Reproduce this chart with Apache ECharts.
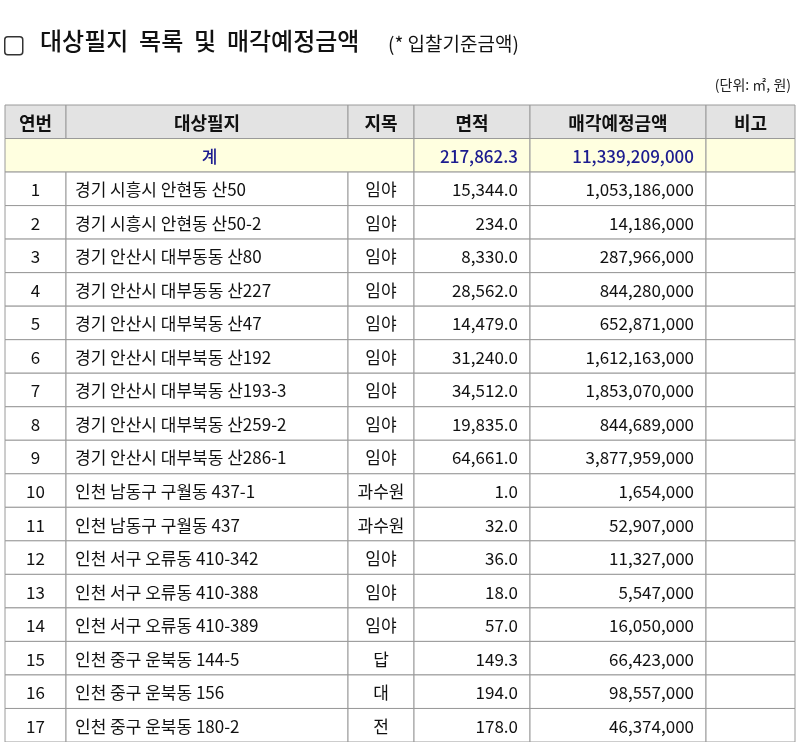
<!DOCTYPE html>
<html><head><meta charset="utf-8">
<script src="https://cdn.jsdelivr.net/npm/echarts@6/dist/echarts.min.js"></script>
<style>html,body{margin:0;padding:0;background:#fff}#c{width:800px;height:742px}</style>
</head><body><div id="c"></div>
<script>
const headers = ['연번','대상필지','지목','면적','매각예정금액','비고'];
const totalArea = '217,862.3';
const totalPrice = '11,339,209,000';
const nums = ['1','2','3','4','5','6','7','8','9','10','11','12','13','14','15','16','17'];
const parcels = ['경기 시흥시 안현동 산50','경기 시흥시 안현동 산50-2','경기 안산시 대부동동 산80','경기 안산시 대부동동 산227','경기 안산시 대부북동 산47','경기 안산시 대부북동 산192','경기 안산시 대부북동 산193-3','경기 안산시 대부북동 산259-2','경기 안산시 대부북동 산286-1','인천 남동구 구월동 437-1','인천 남동구 구월동 437','인천 서구 오류동 410-342','인천 서구 오류동 410-388','인천 서구 오류동 410-389','인천 중구 운북동 144-5','인천 중구 운북동 156','인천 중구 운북동 180-2'];
const landTypes = ['임야','임야','임야','임야','임야','임야','임야','임야','임야','과수원','과수원','임야','임야','임야','답','대','전'];
const areas = ['15,344.0','234.0','8,330.0','28,562.0','14,479.0','31,240.0','34,512.0','19,835.0','64,661.0','1.0','32.0','36.0','18.0','57.0','149.3','194.0','178.0'];
const prices = ['1,053,186,000','14,186,000','287,966,000','844,280,000','652,871,000','1,612,163,000','1,853,070,000','844,689,000','3,877,959,000','1,654,000','52,907,000','11,327,000','5,547,000','16,050,000','66,423,000','98,557,000','46,374,000'];

// layout
const edges = [0, 61, 343, 409, 525, 701, 790];
const rowCount = 19;
const cells = [];
headers.forEach((h,i)=>cells.push([i,0,h,'center','header',i,i]));
cells.push([0,1,'계','center','total',0,2]);
cells.push([3,1,totalArea,'right','total',3,3]);
cells.push([4,1,totalPrice,'right','total',4,4]);
cells.push([5,1,'','center','total',5,5]);
nums.forEach((n,r)=>{
  const row=r+2;
  cells.push([0,row,n,'center','data',0,0]);
  cells.push([1,row,parcels[r],'left','data',1,1]);
  cells.push([2,row,landTypes[r],'center','data',2,2]);
  cells.push([3,row,areas[r],'right','data',3,3]);
  cells.push([4,row,prices[r],'right','data',4,4]);
  cells.push([5,row,'','center','data',5,5]);
});
const rows = Array.from({length:rowCount},(_,i)=>String(i));
const font = '"Noto Sans CJK KR","Noto Sans",sans-serif';
const chart = echarts.init(document.getElementById('c'));
chart.setOption({
  animation:false,
  grid:{left:5,top:105,width:790,height:rowCount*33.7},
  xAxis:{type:'value',min:0,max:790,show:false},
  yAxis:{type:'category',data:rows,inverse:true,show:false},
  graphic:[
    {type:'rect',left:4,top:36,shape:{width:18,height:18,r:3},style:{fill:'#fff',stroke:'#333',lineWidth:1.5}},
    {type:'text',left:40,top:29,style:{text:'대상필지  목록  및  매각예정금액',font:'500 24px '+font,fill:'#111'}},
    {type:'text',left:388,top:34,style:{text:'(* 입찰기준금액)',font:'19px '+font,fill:'#111'}},
    {type:'text',right:9,top:78,style:{text:'(단위: ㎡, 원)',font:'14px '+font,fill:'#222'}}
  ],
  series:[{
    type:'custom',
    data:cells,
    renderItem:function(params,api){
      const c=cells[params.dataIndex];
      const h=api.size([0,1])[1];
      const p0=api.coord([edges[c[5]],c[1]]);
      const p1=api.coord([edges[c[6]+1],c[1]]);
      const x=p0[0],y=p0[1]-h/2,w=p1[0]-p0[0];
      const bg=c[4]==='header'?'#e3e3e3':c[4]==='total'?'#ffffe0':'#fff';
      const col=c[4]==='total'?'#1c1c8f':'#111';
      let tx=x+w/2;
      if(c[3]==='left')tx=x+9;
      if(c[3]==='right')tx=x+w-12;
      return {type:'group',children:[
        {type:'rect',shape:{x:x,y:y,width:w,height:h},style:{fill:bg,stroke:'#9a9a9a',lineWidth:1}},
        {type:'text',style:{x:tx,y:y+h/2+1,text:c[2],textAlign:c[3],textVerticalAlign:'middle',
          font:(c[4]==='header'?'bold 18px ':c[4]==='total'?'500 17px ':'17px ')+font,fill:col}}
      ]};
    }
  }]
});
</script></body></html>
